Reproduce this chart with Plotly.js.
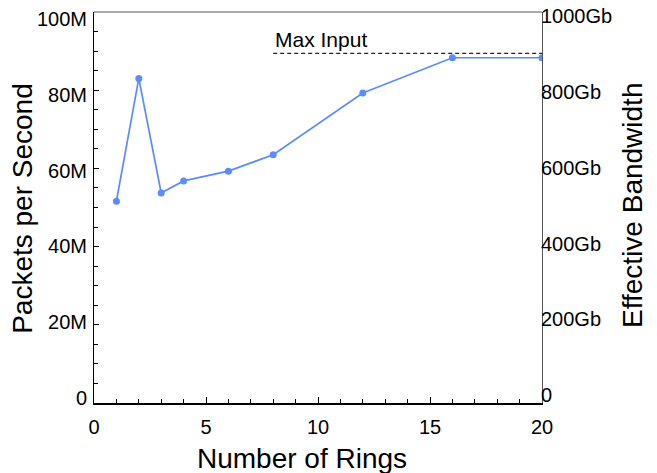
<!DOCTYPE html>
<html>
<head>
<meta charset="utf-8">
<script src="https://cdn.plot.ly/plotly-3.0.1.min.js"></script>
<style>html,body{margin:0;padding:0;background:#fff;}#chart{width:657px;height:473px;}</style>
</head>
<body>
<div id="chart"></div>
<script>
const rings = [1, 2, 3, 4, 6, 8, 12, 16, 20];
const packetsM = [51.6, 83.0, 53.7, 56.8, 59.3, 63.5, 79.3, 88.3, 88.3];
const maxInputX = [8, 20];
const maxInputY = [89.4, 89.4];
const leftTickVals = [0, 20, 40, 60, 80, 100];
const leftTickText = ['0', '20M', '40M', '60M', '80M', '100M'];
const rightTickVals = [0, 200, 400, 600, 800, 1000];
const rightTickText = ['0', '200Gb', '400Gb', '600Gb', '800Gb', '1000Gb'];
const xTickVals = [0, 5, 10, 15, 20];

const FONT = 'Liberation Sans, Arial, Helvetica, sans-serif';
const blue = '#5a8cff';

const traces = [
  {
    x: maxInputX, y: maxInputY, type: 'scatter', mode: 'lines',
    line: {color: '#222', width: 1.2, dash: '4px,3px'}, hoverinfo: 'skip', showlegend: false
  },
  {
    x: rings, y: packetsM, type: 'scatter', mode: 'lines+markers',
    line: {color: blue, width: 1.7}, marker: {color: blue, size: 7}, showlegend: false
  },
  {x: [null], y: [null], yaxis: 'y2', type: 'scatter', showlegend: false, hoverinfo: 'skip'},
  {x: [null], y: [null], yaxis: 'y3', type: 'scatter', showlegend: false, hoverinfo: 'skip'},
  {x: [null], y: [null], yaxis: 'y4', type: 'scatter', showlegend: false, hoverinfo: 'skip'}
];

const tickFont = {family: FONT, size: 20, color: '#000'};
const titleFont = {family: FONT, size: 28, color: '#000'};

const layout = {
  width: 657, height: 473,
  margin: {l: 94, r: 115, t: 12, b: 70, pad: 0},
  paper_bgcolor: '#fff', plot_bgcolor: '#fff',
  font: {family: FONT, size: 20, color: '#000'},
  showlegend: false,
  xaxis: {
    range: [0, 20], tickvals: xTickVals, ticks: 'inside', ticklen: 6, tickcolor: '#000', tickwidth: 1,
    minor: {dtick: 1, ticks: 'inside', ticklen: 4, tickcolor: '#000', tickwidth: 1},
    showline: true, linecolor: '#000', linewidth: 1.5, showgrid: false, zeroline: false,
    tickfont: tickFont, ticklabelstandoff: 5,
    automargin: false, fixedrange: true
  },
  yaxis: {
    range: [0, 100], tickvals: leftTickVals, ticks: 'inside', ticklen: 5, tickcolor: '#000',
    minor: {dtick: 5, ticks: 'inside', ticklen: 4, tickcolor: '#000', tickwidth: 1},
    showticklabels: false,
    showline: true, linecolor: '#000', linewidth: 1.5, showgrid: false, zeroline: false,
    automargin: false, fixedrange: true
  },
  yaxis2: {
    overlaying: 'y', side: 'right', range: [0, 1000], showticklabels: false,
    ticks: '', showline: true, linecolor: '#555', linewidth: 1.2, showgrid: false, zeroline: false,
    automargin: false, fixedrange: true
  },
  yaxis3: {
    overlaying: 'y', side: 'left', range: [-1.32, 101.84], tickvals: leftTickVals, ticktext: leftTickText,
    ticks: '', showline: false, showgrid: false, zeroline: false, tickfont: tickFont, ticklabelstandoff: 6,
    automargin: false, fixedrange: true
  },
  yaxis4: {
    overlaying: 'y', side: 'right', range: [-20.6, 1011.8], tickvals: rightTickVals, ticktext: rightTickText,
    ticks: '', showline: false, showgrid: false, zeroline: false, tickfont: tickFont, ticklabelstandoff: -2,
    automargin: false, fixedrange: true
  },
  shapes: [
    {type: 'line', xref: 'paper', yref: 'paper', x0: 0, x1: 1, y0: 1, y1: 1, line: {color: '#555', width: 1.2}}
  ],
  annotations: [
    {x: maxInputX[0], y: maxInputY[0], xref: 'x', yref: 'y', text: 'Max Input', showarrow: false,
     xanchor: 'left', yanchor: 'bottom', yshift: 0, xshift: 0, font: {family: FONT, size: 21, color: '#000'}},
    {x: 0.465, y: 0, xref: 'paper', yref: 'paper', text: 'Number of Rings', showarrow: false,
     xanchor: 'center', yanchor: 'middle', yshift: -55, font: titleFont},
    {x: 0, y: 0.4966, xref: 'paper', yref: 'paper', text: 'Packets per Second', showarrow: false, textangle: -90,
     xanchor: 'center', yanchor: 'middle', xshift: -71, font: titleFont},
    {x: 1, y: 0.504, xref: 'paper', yref: 'paper', text: 'Effective Bandwidth', showarrow: false, textangle: -90,
     xanchor: 'center', yanchor: 'middle', xshift: 91, font: titleFont}
  ]
};

Plotly.newPlot('chart', traces, layout, {displayModeBar: false, staticPlot: true});
</script>
</body>
</html>
